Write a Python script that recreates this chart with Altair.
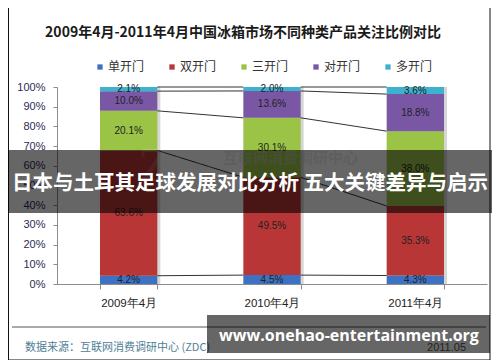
import altair as alt
import pandas as pd

# ---- data ----
categories = ["2009年4月", "2010年4月", "2011年4月"]
series = ["单开门", "双开门", "三开门", "对开门", "多开门"]
colors = ["#3d72c2", "#b93636", "#9bc346", "#7a57a5", "#3db2ce"]
single_door = [4.2, 4.5, 4.3]
double_door = [63.6, 49.5, 35.3]
triple_door = [20.1, 30.1, 38.0]
side_by_side = [10.0, 13.6, 18.8]
multi_door = [2.1, 2.0, 3.6]
y_ticks = [0.0, 0.1, 0.2, 0.3, 0.4, 0.5, 0.6, 0.7, 0.8, 0.9, 1.0]

title_text = "2009年4月-2011年4月中国冰箱市场不同种类产品关注比例对比"
source_text = "数据来源：互联网消费调研中心 (ZDC)"
date_text = "2011.05"
banner_text = "日本与土耳其足球发展对比分析 五大关键差异与启示"
watermark_text = "www.onehao-entertainment.org"
faint_logo = "ZDC"
faint_name = "互联网消费调研中心"

series_values = [single_door, double_door, triple_door, side_by_side, multi_door]

# ---- build tables (100% stacked) ----
rows = []
cums = []
for i, cat in enumerate(categories):
    vals = [s[i] for s in series_values]
    tot = sum(vals)
    c = 0.0
    cum_i = []
    for name, v in zip(series, vals):
        y0 = c / tot
        c += v
        y1 = c / tot
        cum_i.append(y1)
        rows.append({"cat": cat, "series": name, "y0": y0, "y1": y1,
                     "mid": (y0 + y1) / 2, "label": f"{v:.1f}%"})
    cums.append(cum_i)
bars_df = pd.DataFrame(rows)
shadow_df = pd.DataFrame({"cat": categories, "y0": [0.0] * len(categories),
                          "y1": [c[-1] for c in cums]})

conn = []
for i in range(len(categories) - 1):
    for k in range(len(series)):
        conn.append({"cat": categories[i], "next": categories[i + 1],
                     "ya": cums[i][k], "yb": cums[i + 1][k]})
conn_df = pd.DataFrame(conn)

W, H = 430, 197
CJK = "Noto Sans CJK SC"
LAT = "Liberation Sans"

x_scale = alt.Scale(domain=categories, paddingInner=0.6, paddingOuter=0.3)
x_axis = alt.Axis(title=None, labelAngle=0, tickBand="extent", tickSize=5,
                  labelPadding=8, labelFontSize=11.5, labelFont=LAT,
                  labelColor="#222222", domainColor="#8c8c8c", tickColor="#8c8c8c")
y_scale = alt.Scale(domain=[0, 1], nice=False, zero=True)
y_axis = alt.Axis(title=None, values=y_ticks, tickCount=11, format=".0%",
                  tickSize=4, labelPadding=8, labelFontSize=11, labelFont=LAT,
                  labelColor="#2b2b55", domainColor="#8c8c8c", tickColor="#8c8c8c",
                  grid=False, labelOverlap=False, labelFlush=False)


def X(field, **kw):
    return alt.X(field, sort=categories, scale=x_scale, axis=x_axis, **kw)


def Y(field):
    return alt.Y(field, scale=y_scale, axis=y_axis)


shadow = alt.Chart(shadow_df).mark_bar(color="#000000", opacity=0.16,
                                       xOffset=3).encode(
    x=X("cat:N"), y=Y("y0:Q"), y2="y1:Q")

bars = alt.Chart(bars_df).mark_bar().encode(
    x=X("cat:N"), y=Y("y0:Q"), y2="y1:Q",
    color=alt.Color("series:N", scale=alt.Scale(domain=series, range=colors),
                    legend=alt.Legend(orient="none", legendX=37, legendY=-26,
                                      direction="horizontal", title=None,
                                      symbolType="square", symbolSize=28,
                                      symbolStrokeWidth=0, labelFont=CJK,
                                      labelFontSize=12, labelColor="#333333",
                                      labelOffset=2, columnPadding=21)),
    order=alt.Order("y0:Q"),
)

connectors = alt.Chart(conn_df).mark_rule(color="#333333", strokeWidth=1).encode(
    x=X("cat:N", bandPosition=1),
    x2=alt.X2("next:N", bandPosition=0),
    y=Y("ya:Q"),
    y2="yb:Q",
)

labels = alt.Chart(bars_df).mark_text(font=LAT, fontSize=10, color="#222222").encode(
    x=X("cat:N"), y=Y("mid:Q"), text="label:N")

one = pd.DataFrame({"t": [""]})


def txt(text, x, y, **kw):
    return alt.Chart(pd.DataFrame({"t": [text]})).mark_text(**kw).encode(
        x=alt.value(x), y=alt.value(y), text="t:N")


def box(x, x2, y, y2, **kw):
    return alt.Chart(one).mark_rect(**kw).encode(
        x=alt.value(x), x2=alt.value(x2), y=alt.value(y), y2=alt.value(y2))


def line(x, x2, y, y2, **kw):
    return alt.Chart(one).mark_rule(**kw).encode(
        x=alt.value(x), x2=alt.value(x2), y=alt.value(y), y2=alt.value(y2))


title = txt(title_text, 186, -54, font=CJK, fontSize=14, fontWeight="bold",
            color="#1a1a1a", align="center", baseline="middle")
logo = txt(faint_logo, 82, 82, font="DejaVu Serif", fontSize=44,
           color="#ffffff", opacity=0.15, align="left", baseline="middle")
logo_name = txt(faint_name, 166, 71, font=CJK, fontSize=15, fontWeight="bold",
                color="#d0d0d0", opacity=0.4, align="left", baseline="middle")
sep = line(-45, 429, 240, 240, color="#555555", strokeWidth=1)
frame_l = line(-48.5, -48.5, -79, 273, color="#111111", strokeWidth=1)
frame_r = line(433, 433, -79, 273, color="#111111", strokeWidth=1)
frame_b = line(-48.5, 433, 273, 273, color="#111111", strokeWidth=1)
source = txt(source_text, -32, 261, font=CJK, fontSize=11, color="#4f8096",
             align="left", baseline="middle")
date = txt(date_text, 409, 261, font=LAT, fontSize=11, color="#555555",
           align="right", baseline="middle")
banner = box(-49, 435, 63, 126, color="#000000", opacity=0.6)
banner_t = txt(banner_text, 193, 97, font=CJK, fontSize=20.5, fontWeight="bold",
               color="#ffffff", align="center", baseline="middle")
wm = box(150, 433, 228, 266, color="#000000", opacity=0.6)
wm_t = txt(watermark_text, 292, 249, font="Open Sans", fontSize=16,
           fontWeight="bold", color="#ffffff", align="center", baseline="middle")

chart = alt.layer(
    shadow, bars, connectors, labels, title, logo, logo_name, sep,
    frame_l, frame_r, frame_b, source, date, banner, banner_t, wm, wm_t
).properties(
    width=W, height=H,
    autosize=alt.AutoSizeParams(type="none"),
    padding={"left": 49, "top": 79, "right": 5, "bottom": 76},
    background="white",
).configure_view(stroke=None).configure_axis(labelOverlap=False)

chart.save("out.html", embed_options={"renderer": "svg", "actions": False})
